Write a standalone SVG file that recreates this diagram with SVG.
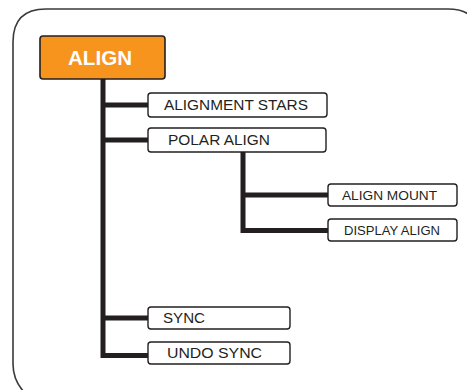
<svg xmlns="http://www.w3.org/2000/svg" width="467" height="390" viewBox="0 0 467 390">
<style>
.frame{fill:none;stroke:#3a3a3a;stroke-width:1.6}
.conn{fill:none;stroke:#231f20;stroke-width:5;stroke-linejoin:miter}
.box{fill:#fff;stroke:#231f20;stroke-width:1.4}
.root{fill:#f7941d;stroke:#231f20;stroke-width:1.6}
.t{font-family:"Liberation Sans",Arial,sans-serif;font-size:14px;fill:#231f20}
.s{font-size:12px}
.rt{font-family:"Liberation Sans",Arial,sans-serif;font-size:20px;font-weight:bold;fill:#fff}
</style>
<rect width="467" height="390" fill="#fff"/>
<path class="frame" d="M480,41 Q480,9 448,9 L46,9 Q13,9 13,42 L13,364 Q13,380 24,392"/>
<g id="connectors">
<path class="conn" d="M103,79 L103,355.5 L148,355.5"/>
<path class="conn" d="M103,105 L148,105"/>
<path class="conn" d="M103,140 L148,140"/>
<path class="conn" d="M103,318 L148,318"/>
<path class="conn" d="M243,152 L243,230.5 L328,230.5"/>
<path class="conn" d="M243,195 L328,195"/>
</g>
<g id="align">
<rect class="root" x="40" y="36" width="125" height="43" rx="3"/>
<text class="rt" x="68" y="64.5" textLength="64" lengthAdjust="spacingAndGlyphs">ALIGN</text>
</g>
<g id="alignment-stars">
<rect class="box" x="148" y="93" width="179" height="24" rx="3"/>
<text class="t" x="164" y="110" textLength="144" lengthAdjust="spacingAndGlyphs">ALIGNMENT STARS</text>
</g>
<g id="polar-align">
<rect class="box" x="148" y="128" width="178" height="24" rx="3"/>
<text class="t" x="168" y="145" textLength="102" lengthAdjust="spacingAndGlyphs">POLAR ALIGN</text>
</g>
<g id="align-mount">
<rect class="box" x="328" y="184" width="129" height="22" rx="3"/>
<text class="t s" x="342" y="199.5" textLength="95" lengthAdjust="spacingAndGlyphs">ALIGN MOUNT</text>
</g>
<g id="display-align">
<rect class="box" x="328" y="219" width="129" height="22" rx="3"/>
<text class="t s" x="344" y="234.5" textLength="96" lengthAdjust="spacingAndGlyphs">DISPLAY ALIGN</text>
</g>
<g id="sync">
<rect class="box" x="148" y="307" width="142" height="22" rx="3"/>
<text class="t" x="163" y="323" textLength="42" lengthAdjust="spacingAndGlyphs">SYNC</text>
</g>
<g id="undo-sync">
<rect class="box" x="148" y="342" width="142" height="22" rx="3"/>
<text class="t" x="167" y="358" textLength="95" lengthAdjust="spacingAndGlyphs">UNDO SYNC</text>
</g>
</svg>
